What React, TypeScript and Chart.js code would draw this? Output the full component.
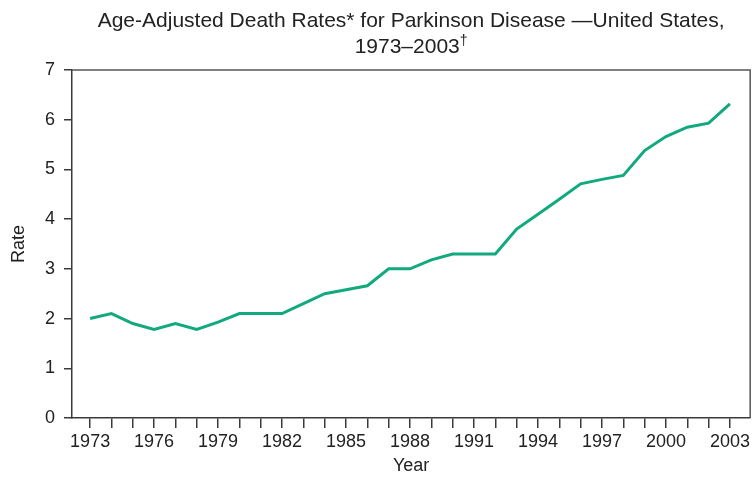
import React, { useEffect, useRef } from "react";
import { Chart, registerables } from "chart.js";

Chart.register(...registerables);

const years: number[] = [
  1973, 1974, 1975, 1976, 1977, 1978, 1979, 1980, 1981, 1982, 1983, 1984, 1985, 1986, 1987, 1988,
  1989, 1990, 1991, 1992, 1993, 1994, 1995, 1996, 1997, 1998, 1999, 2000, 2001, 2002, 2003,
];
const rates: number[] = [
  2.0, 2.1, 1.9, 1.78, 1.9, 1.78, 1.93, 2.1, 2.1, 2.1, 2.3, 2.5, 2.58, 2.66, 3.0, 3.0,
  3.18, 3.3, 3.3, 3.3, 3.8, 4.1, 4.4, 4.71, 4.8, 4.88, 5.38, 5.66, 5.85, 5.93, 6.32,
];
const yTicks: number[] = [0, 1, 2, 3, 4, 5, 6, 7];
const titleLine1 = "Age-Adjusted Death Rates* for Parkinson Disease \u2014United States,";
const titleLine2 = "1973\u20132003";
const titleSup = "\u2020";

const FONT = "'Liberation Sans', Arial, Helvetica, sans-serif";
const TEXT = "#222222";
const AXIS = "#3a3a3a";

const framePlugin = {
  id: "frame",
  afterDraw(chart: any) {
    const { ctx, chartArea } = chart;
    ctx.save();
    ctx.strokeStyle = "#555555";
    ctx.lineWidth = 1.5;
    ctx.beginPath();
    ctx.moveTo(chartArea.left, chartArea.top);
    ctx.lineTo(chartArea.right, chartArea.top);
    ctx.lineTo(chartArea.right, chartArea.bottom);
    ctx.stroke();
    // title
    const cx = (chartArea.left + chartArea.right) / 2;
    ctx.fillStyle = TEXT;
    ctx.font = `21px ${FONT}`;
    ctx.textAlign = "center";
    ctx.textBaseline = "alphabetic";
    ctx.fillText(titleLine1, cx, 27);
    const w2 = ctx.measureText(titleLine2).width;
    ctx.font = `14px ${FONT}`;
    const ws = ctx.measureText(titleSup).width;
    const startX = cx - (w2 + ws) / 2;
    ctx.textAlign = "left";
    ctx.font = `21px ${FONT}`;
    ctx.fillText(titleLine2, startX, 53);
    ctx.font = `14px ${FONT}`;
    ctx.fillText(titleSup, startX + w2, 45);
    ctx.restore();
  },
};

export default function App() {
  const ref = useRef<HTMLCanvasElement | null>(null);
  useEffect(() => {
    if (!ref.current) return;
    const chart = new Chart(ref.current, {
      type: "line",
      data: {
        datasets: [
          {
            data: years.map((y, i) => ({ x: y, y: rates[i] })),
            borderColor: "#12a97f",
            borderWidth: 3,
            pointRadius: 0,
            tension: 0,
            fill: false,
          },
        ],
      },
      options: {
        animation: false,
        responsive: false,
        maintainAspectRatio: false,
        layout: { padding: { top: 70, right: 2, left: 0, bottom: 0 } },
        plugins: { legend: { display: false }, title: { display: false }, tooltip: { enabled: false } },
        scales: {
          x: {
            type: "linear",
            min: 1972.15,
            max: 2003.95,
            afterBuildTicks: (scale: any) => {
              scale.ticks = years.map((v) => ({ value: v }));
            },
            afterFit: (scale: any) => {
              scale.height = 60;
            },
            grid: { drawOnChartArea: false, drawTicks: true, tickLength: 10, color: AXIS, lineWidth: 1.5 },
            border: { display: true, color: AXIS, width: 1.5 },
            ticks: {
              autoSkip: false,
              maxRotation: 0,
              padding: 3,
              color: TEXT,
              font: { family: FONT, size: 18 },
              callback: (v: any) => ((Number(v) - 1973) % 3 === 0 ? String(v) : ""),
            },
            title: {
              display: true,
              text: "Year",
              color: TEXT,
              font: { family: FONT, size: 18 },
              padding: { top: 0, bottom: 1 },
            },
          },
          y: {
            type: "linear",
            min: 0,
            max: 7,
            afterBuildTicks: (scale: any) => {
              scale.ticks = yTicks.map((v) => ({ value: v }));
            },
            afterFit: (scale: any) => {
              scale.width = 72;
            },
            grid: { drawOnChartArea: false, drawTicks: true, tickLength: 8, color: AXIS, lineWidth: 1.5 },
            border: { display: true, color: AXIS, width: 1.5 },
            ticks: {
              padding: 9,
              color: TEXT,
              font: { family: FONT, size: 18 },
            },
            title: {
              display: true,
              text: "Rate",
              color: TEXT,
              font: { family: FONT, size: 18 },
              padding: { top: 8, bottom: 0 },
            },
          },
        },
      },
      plugins: [framePlugin],
    });
    return () => chart.destroy();
  }, []);
  return (
    <div style={{ position: "fixed", left: 0, top: 0, width: 753, height: 478, background: "#fff" }}>
      <canvas ref={ref} width={753} height={478} style={{ width: 753, height: 478 }} />
    </div>
  );
}
